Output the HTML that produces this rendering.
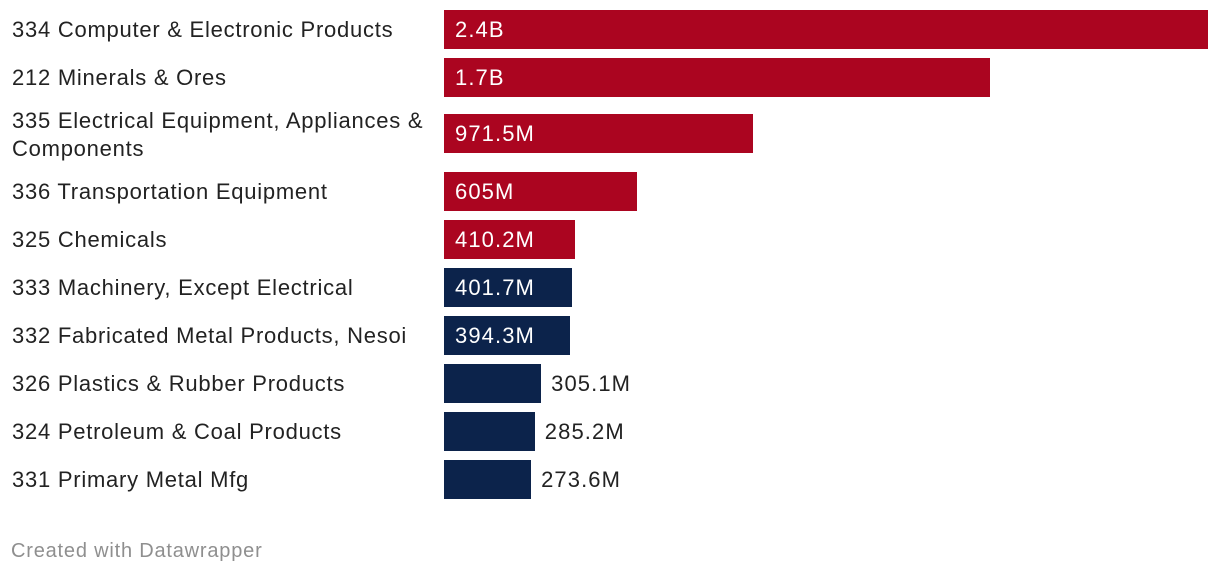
<!DOCTYPE html>
<html><head><meta charset="utf-8">
<style>
html,body{margin:0;padding:0;background:#fff;width:1220px;height:576px;overflow:hidden;font-family:"Liberation Sans",Arial,sans-serif;}
.lbl{position:absolute;left:12px;font-size:22px;letter-spacing:0.75px;color:#222;line-height:28px;white-space:nowrap;}
.bar{position:absolute;left:444px;height:39px;}
.val{position:absolute;font-size:22px;letter-spacing:1.1px;line-height:40px;white-space:nowrap;}
#footer{position:absolute;left:11px;top:540px;font-size:20px;letter-spacing:0.8px;color:#8f8f8f;}
</style></head><body>
<div id="chart"></div>
<div id="footer">Created with Datawrapper</div>
<script>
const categories=["334 Computer & Electronic Products","212 Minerals & Ores","335 Electrical Equipment, Appliances &\nComponents","336 Transportation Equipment","325 Chemicals","333 Machinery, Except Electrical","332 Fabricated Metal Products, Nesoi","326 Plastics & Rubber Products","324 Petroleum & Coal Products","331 Primary Metal Mfg"];
const values=[2400,1715,971.5,605,410.2,401.7,394.3,305.1,285.2,273.6];
const labels=["2.4B","1.7B","971.5M","605M","410.2M","401.7M","394.3M","305.1M","285.2M","273.6M"];
const highlighted=[true,true,true,true,true,false,false,false,false,false];
const chart=document.getElementById('chart');
const x=v=>v/2400*764;
let y=10;
categories.forEach((c,i)=>{
  const twoLine=c.indexOf('\n')>=0;
  const rowTop=y;
  const top=twoLine?rowTop+8:rowTop;
  const bar=document.createElement('div');
  
  
  bar.className='bar';
  bar.style.top=top+'px';
  const w=x(values[i]);
  bar.style.width=w+'px';
  bar.style.background=highlighted[i]?'#ab0520':'#0c234b';
  chart.appendChild(bar);
  const lab=document.createElement('div');
  
  
  lab.className='lbl';
  lab.style.top=(twoLine?rowTop+1:rowTop+6)+'px';
  lab.style.whiteSpace='pre';
  lab.textContent=c;
  chart.appendChild(lab);
  const v=document.createElement('div');
  
  
  v.className='val';
  v.style.top=top+'px';
  v.textContent=labels[i];
  if(w>120){v.style.left='455px';v.style.color='#fff';}
  else{v.style.left=(444+w+10)+'px';v.style.color='#222';}
  chart.appendChild(v);
  y+=twoLine?66:48;
});
</script>
</body></html>
